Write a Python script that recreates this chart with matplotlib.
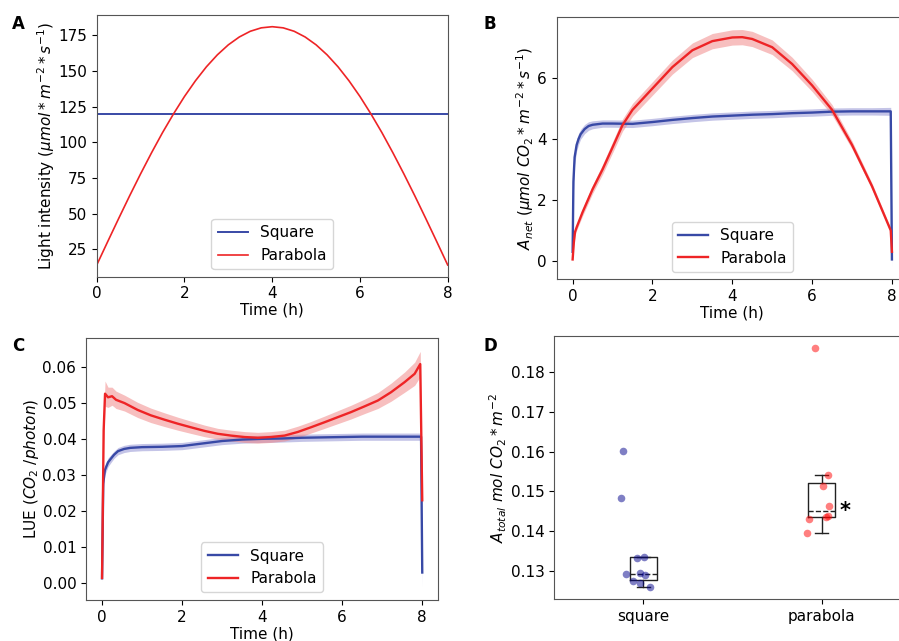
import matplotlib
matplotlib.use("Agg")
import matplotlib.pyplot as plt
import numpy as np

# ---------------- data ----------------
# A: light intensity
t_light = [0, 0.25, 0.5, 0.75, 1.0, 1.25, 1.5, 1.75, 2.0, 2.25, 2.5, 2.75, 3.0, 3.25, 3.5, 3.75, 4.0,
           4.25, 4.5, 4.75, 5.0, 5.25, 5.5, 5.75, 6.0, 6.25, 6.5, 6.75, 7.0, 7.25, 7.5, 7.75, 8.0]
light_square = [120] * len(t_light)
light_parabola = [14, 30.4, 46.6, 62.5, 77.9, 92.7, 106.8, 119.9, 132.1, 143.1, 152.9, 161.3, 168.3,
                  173.8, 177.8, 180.2, 181, 180.2, 177.8, 173.8, 168.3, 161.3, 152.9, 143.1, 132.1,
                  119.9, 106.8, 92.7, 77.9, 62.5, 46.6, 30.4, 14]

# B: net assimilation
t_anet_sq = [0, 0.02, 0.05, 0.1, 0.15, 0.2, 0.3, 0.4, 0.5, 0.75, 1.0, 1.5, 2.0, 2.5, 3.0, 3.5, 4.0,
             4.5, 5.0, 5.5, 6.0, 6.5, 7.0, 7.5, 7.97, 8.0]
anet_sq = [0.3, 2.6, 3.4, 3.8, 4.0, 4.15, 4.32, 4.42, 4.46, 4.5, 4.5, 4.49, 4.55, 4.62, 4.68, 4.73,
           4.76, 4.79, 4.81, 4.84, 4.86, 4.89, 4.9, 4.9, 4.9, 0.05]
anet_sq_sd = [0.3, 0.3, 0.25, 0.2, 0.18, 0.16, 0.15, 0.14, 0.13, 0.12, 0.12, 0.12, 0.12, 0.12, 0.12,
              0.12, 0.12, 0.12, 0.12, 0.12, 0.12, 0.12, 0.12, 0.12, 0.13, 0.25]
t_anet_pa = [0, 0.03, 0.06, 0.1, 0.25, 0.5, 0.75, 1.0, 1.25, 1.5, 2.0, 2.5, 3.0, 3.5, 4.0, 4.25, 4.5,
             5.0, 5.5, 6.0, 6.5, 7.0, 7.5, 7.97, 8.0]
anet_pa = [0.05, 0.6, 0.95, 1.1, 1.6, 2.35, 3.0, 3.72, 4.45, 4.95, 5.65, 6.35, 6.9, 7.2, 7.32, 7.33,
           7.27, 7.0, 6.45, 5.75, 4.95, 3.8, 2.45, 1.0, 0.3]
anet_pa_sd = [0.05, 0.08, 0.1, 0.1, 0.12, 0.14, 0.16, 0.18, 0.2, 0.21, 0.22, 0.23, 0.24, 0.25, 0.25,
              0.25, 0.25, 0.24, 0.22, 0.2, 0.17, 0.13, 0.1, 0.08, 0.08]

# C: light use efficiency
t_lue_sq = [0, 0.03, 0.07, 0.15, 0.22, 0.3, 0.4, 0.55, 0.7, 1.0, 1.5, 2.0, 2.5, 3.0, 3.5, 4.0, 4.5,
            5.0, 5.5, 6.0, 6.5, 7.0, 7.5, 7.97, 8.0]
lue_sq = [0.0014, 0.0276, 0.0313, 0.0335, 0.0345, 0.0356, 0.0366, 0.0372, 0.0375, 0.0377, 0.0378,
          0.038, 0.0387, 0.0394, 0.0398, 0.04, 0.0401, 0.0403, 0.0404, 0.0405, 0.0406, 0.0406,
          0.0406, 0.0406, 0.003]
lue_sq_sd = [0.001, 0.0015, 0.0013, 0.0012, 0.0011, 0.001, 0.001, 0.001, 0.001, 0.001, 0.001, 0.001,
             0.001, 0.001, 0.001, 0.001, 0.001, 0.001, 0.001, 0.001, 0.001, 0.001, 0.001, 0.001, 0.004]
t_lue_pa = [0, 0.04, 0.075, 0.15, 0.25, 0.35, 0.56, 0.89, 1.22, 1.56, 1.89, 2.22, 2.56, 2.89, 3.22,
            3.56, 3.89, 4.22, 4.56, 4.89, 5.22, 5.56, 5.89, 6.22, 6.56, 6.89, 7.22, 7.56, 7.81, 7.95,
            8.0]
lue_pa = [0.0015, 0.0423, 0.0525, 0.0515, 0.0518, 0.0508, 0.0499, 0.048, 0.0465, 0.0453, 0.0442,
          0.0432, 0.0422, 0.0414, 0.0409, 0.0405, 0.0403, 0.0405, 0.0409, 0.0419, 0.0432, 0.0446,
          0.046, 0.0474, 0.049, 0.0506, 0.0529, 0.0557, 0.058, 0.0607, 0.023]
lue_pa_sd = [0.001, 0.003, 0.0035, 0.0028, 0.0025, 0.0024, 0.0022, 0.0021, 0.002, 0.0019, 0.0018,
             0.0017, 0.0016, 0.0015, 0.0015, 0.0015, 0.0015, 0.0015, 0.0015, 0.0016, 0.0016,
             0.0017, 0.0018, 0.0019, 0.002, 0.0022, 0.0025, 0.0028, 0.0032, 0.0035, 0.002]

# D: total assimilation per plant
categories = ["square", "parabola"]
atotal_square = [0.1601, 0.1484, 0.1332, 0.1336, 0.1292, 0.1294, 0.1290, 0.1275, 0.1269, 0.1259]
atotal_parabola = [0.1860, 0.1541, 0.1514, 0.1463, 0.1436, 0.1438, 0.1430, 0.1395]
jitter_square = [-0.113, -0.125, -0.034, 0.004, -0.1, -0.017, 0.007, -0.058, -0.017, 0.035]
jitter_parabola = [-0.037, 0.034, 0.007, 0.039, 0.026, 0.034, -0.071, -0.082]

BLUE = "#3849a6"
RED = "#ee2426"
BLUE_FILL = "#8a8ad0"
RED_FILL = "#f08080"

plt.rcParams["font.size"] = 11

fig = plt.figure(figsize=(8.99, 6.41), dpi=100)

# ---------------- A ----------------
axA = fig.add_axes([0.1076, 0.5683, 0.3904, 0.4083])
axA.plot(t_light, light_square, color=BLUE, lw=1.4, label="Square")
axA.plot(t_light, light_parabola, color=RED, lw=1.2, label="Parabola")
axA.set_xlim(0, 8)
axA.set_ylim(5.8, 189.2)
axA.set_xticks([0, 2, 4, 6, 8])
axA.set_yticks([25, 50, 75, 100, 125, 150, 175])
axA.set_xlabel("Time (h)", labelpad=1)
axA.set_ylabel(r"Light intensity ($\mu mol*m^{-2}*s^{-1}$)", labelpad=1)
axA.legend(loc="lower center")


def band(ax, t, m, sd, col, fcol, lab):
    t = np.array(t)
    m = np.array(m)
    sd = np.array(sd)
    ax.fill_between(t, m - sd, m + sd, color=fcol, alpha=0.5, lw=0)
    ax.plot(t, m, color=col, lw=1.7, label=lab)


# ---------------- B ----------------
axB = fig.add_axes([0.6192, 0.5643, 0.3907, 0.4087])
band(axB, t_anet_sq, anet_sq, anet_sq_sd, BLUE, BLUE_FILL, "Square")
band(axB, t_anet_pa, anet_pa, anet_pa_sd, RED, RED_FILL, "Parabola")
axB.set_xlim(-0.4, 8.4)
axB.set_ylim(-0.6, 7.98)
axB.set_xticks([0, 2, 4, 6, 8])
axB.set_yticks([0, 2, 4, 6])
axB.set_xlabel("Time (h)", labelpad=1)
axB.set_ylabel(r"$A_{net}$ ($\mu mol\ CO_2*m^{-2}*s^{-1}$)", labelpad=1)
axB.legend(loc="lower center")

# ---------------- C ----------------
axC = fig.add_axes([0.0957, 0.064, 0.3918, 0.4092])
band(axC, t_lue_sq, lue_sq, lue_sq_sd, BLUE, BLUE_FILL, "Square")
band(axC, t_lue_pa, lue_pa, lue_pa_sd, RED, RED_FILL, "Parabola")
axC.set_xlim(-0.4, 8.4)
axC.set_ylim(-0.0046, 0.068)
axC.set_xticks([0, 2, 4, 6, 8])
axC.set_yticks([0, 0.01, 0.02, 0.03, 0.04, 0.05, 0.06])
axC.set_yticklabels(["0.00", "0.01", "0.02", "0.03", "0.04", "0.05", "0.06"])
axC.set_xlabel("Time (h)", labelpad=1)
axC.set_ylabel(r"LUE ($CO_2\ /photon$)", labelpad=1)
axC.legend(loc="lower center")

# ---------------- D ----------------
axD = fig.add_axes([0.6166, 0.065, 0.3967, 0.4108])
axD.boxplot([atotal_square, atotal_parabola], positions=[0, 1], widths=0.15, showfliers=False,
            boxprops=dict(color="#222222", lw=1.0),
            whiskerprops=dict(color="#222222", lw=1.0),
            capprops=dict(color="#222222", lw=1.0),
            medianprops=dict(color="#222222", lw=1.0, ls="--"))
axD.scatter(np.array(jitter_square) + 0, atotal_square, s=30, color="#00008b", alpha=0.5,
            lw=0, zorder=3)
axD.scatter(np.array(jitter_parabola) + 1, atotal_parabola, s=30, color="red", alpha=0.5,
            lw=0, zorder=3)
axD.text(1.13, np.median(atotal_parabola), "*", fontsize=15, fontweight="bold", ha="center",
         va="center")
axD.set_xlim(-0.5, 1.5)
axD.set_ylim(0.1229, 0.189)
axD.set_xticks([0, 1])
axD.set_xticklabels(categories)
axD.set_yticks([0.13, 0.14, 0.15, 0.16, 0.17, 0.18])
axD.set_ylabel(r"$A_{total}\ mol\ CO_2*m^{-2}$", labelpad=1)

for ax in [axA, axB, axC, axD]:
    for s in ax.spines.values():
        s.set_color("#555555")

fig.text(0.013, 0.955, "A", fontsize=12, fontweight="bold")
fig.text(0.538, 0.955, "B", fontsize=12, fontweight="bold")
fig.text(0.013, 0.452, "C", fontsize=12, fontweight="bold")
fig.text(0.538, 0.452, "D", fontsize=12, fontweight="bold")

fig.savefig("out.png", dpi=100)
